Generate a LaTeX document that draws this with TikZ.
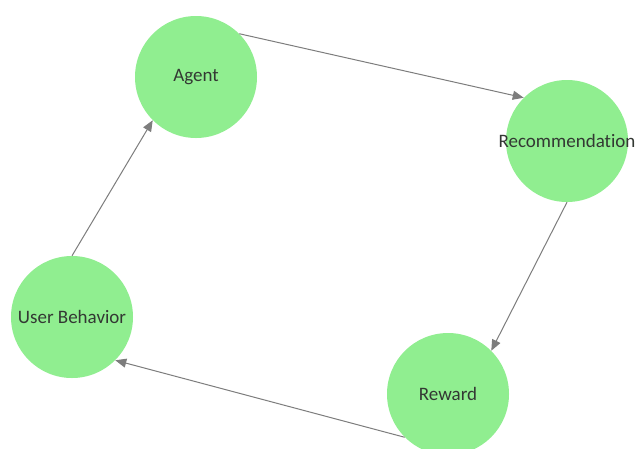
\documentclass[tikz,border=0pt]{standalone}
\usepackage{fontspec}
\setmainfont{Carlito}[Ligatures=NoCommon]
\usetikzlibrary{arrows.meta}

\definecolor{ltgreen}{RGB}{144,238,144}
\definecolor{edgegray}{RGB}{125,125,125}
\definecolor{labelgray}{RGB}{51,56,51}

\tikzset{
  state/.style = {circle, fill=ltgreen, minimum size=122pt, inner sep=0pt},
  flow/.style = {draw=edgegray, line width=1pt, -{Triangle[length=11pt,width=9pt]}},
  every label/.style = {text=labelgray, inner sep=0pt}
}

\begin{document}
\begin{tikzpicture}[x=1pt, y=-1pt, font=\fontsize{19}{23}\selectfont]
        \clip (0,0) rectangle (636,448);
        \fill[white] (0,0) rectangle (636,448);

        \node[state, label=center:Agent] (agent) at (196,77) {};
        \node[state, label=center:Recommendation] (rec) at (567,141) {};
        \node[state, label=center:Reward] (reward) at (448,394) {};
        \node[state, label=center:User Behavior] (user) at (72,317) {};

        \draw[flow] (agent.45) -- (rec.135);
        \draw[flow] (rec.south) -- (reward.45);
        \draw[flow] (reward.225) -- (user.-45);
        \draw[flow] (user.north) -- (agent.-135);
\end{tikzpicture}
\end{document}
